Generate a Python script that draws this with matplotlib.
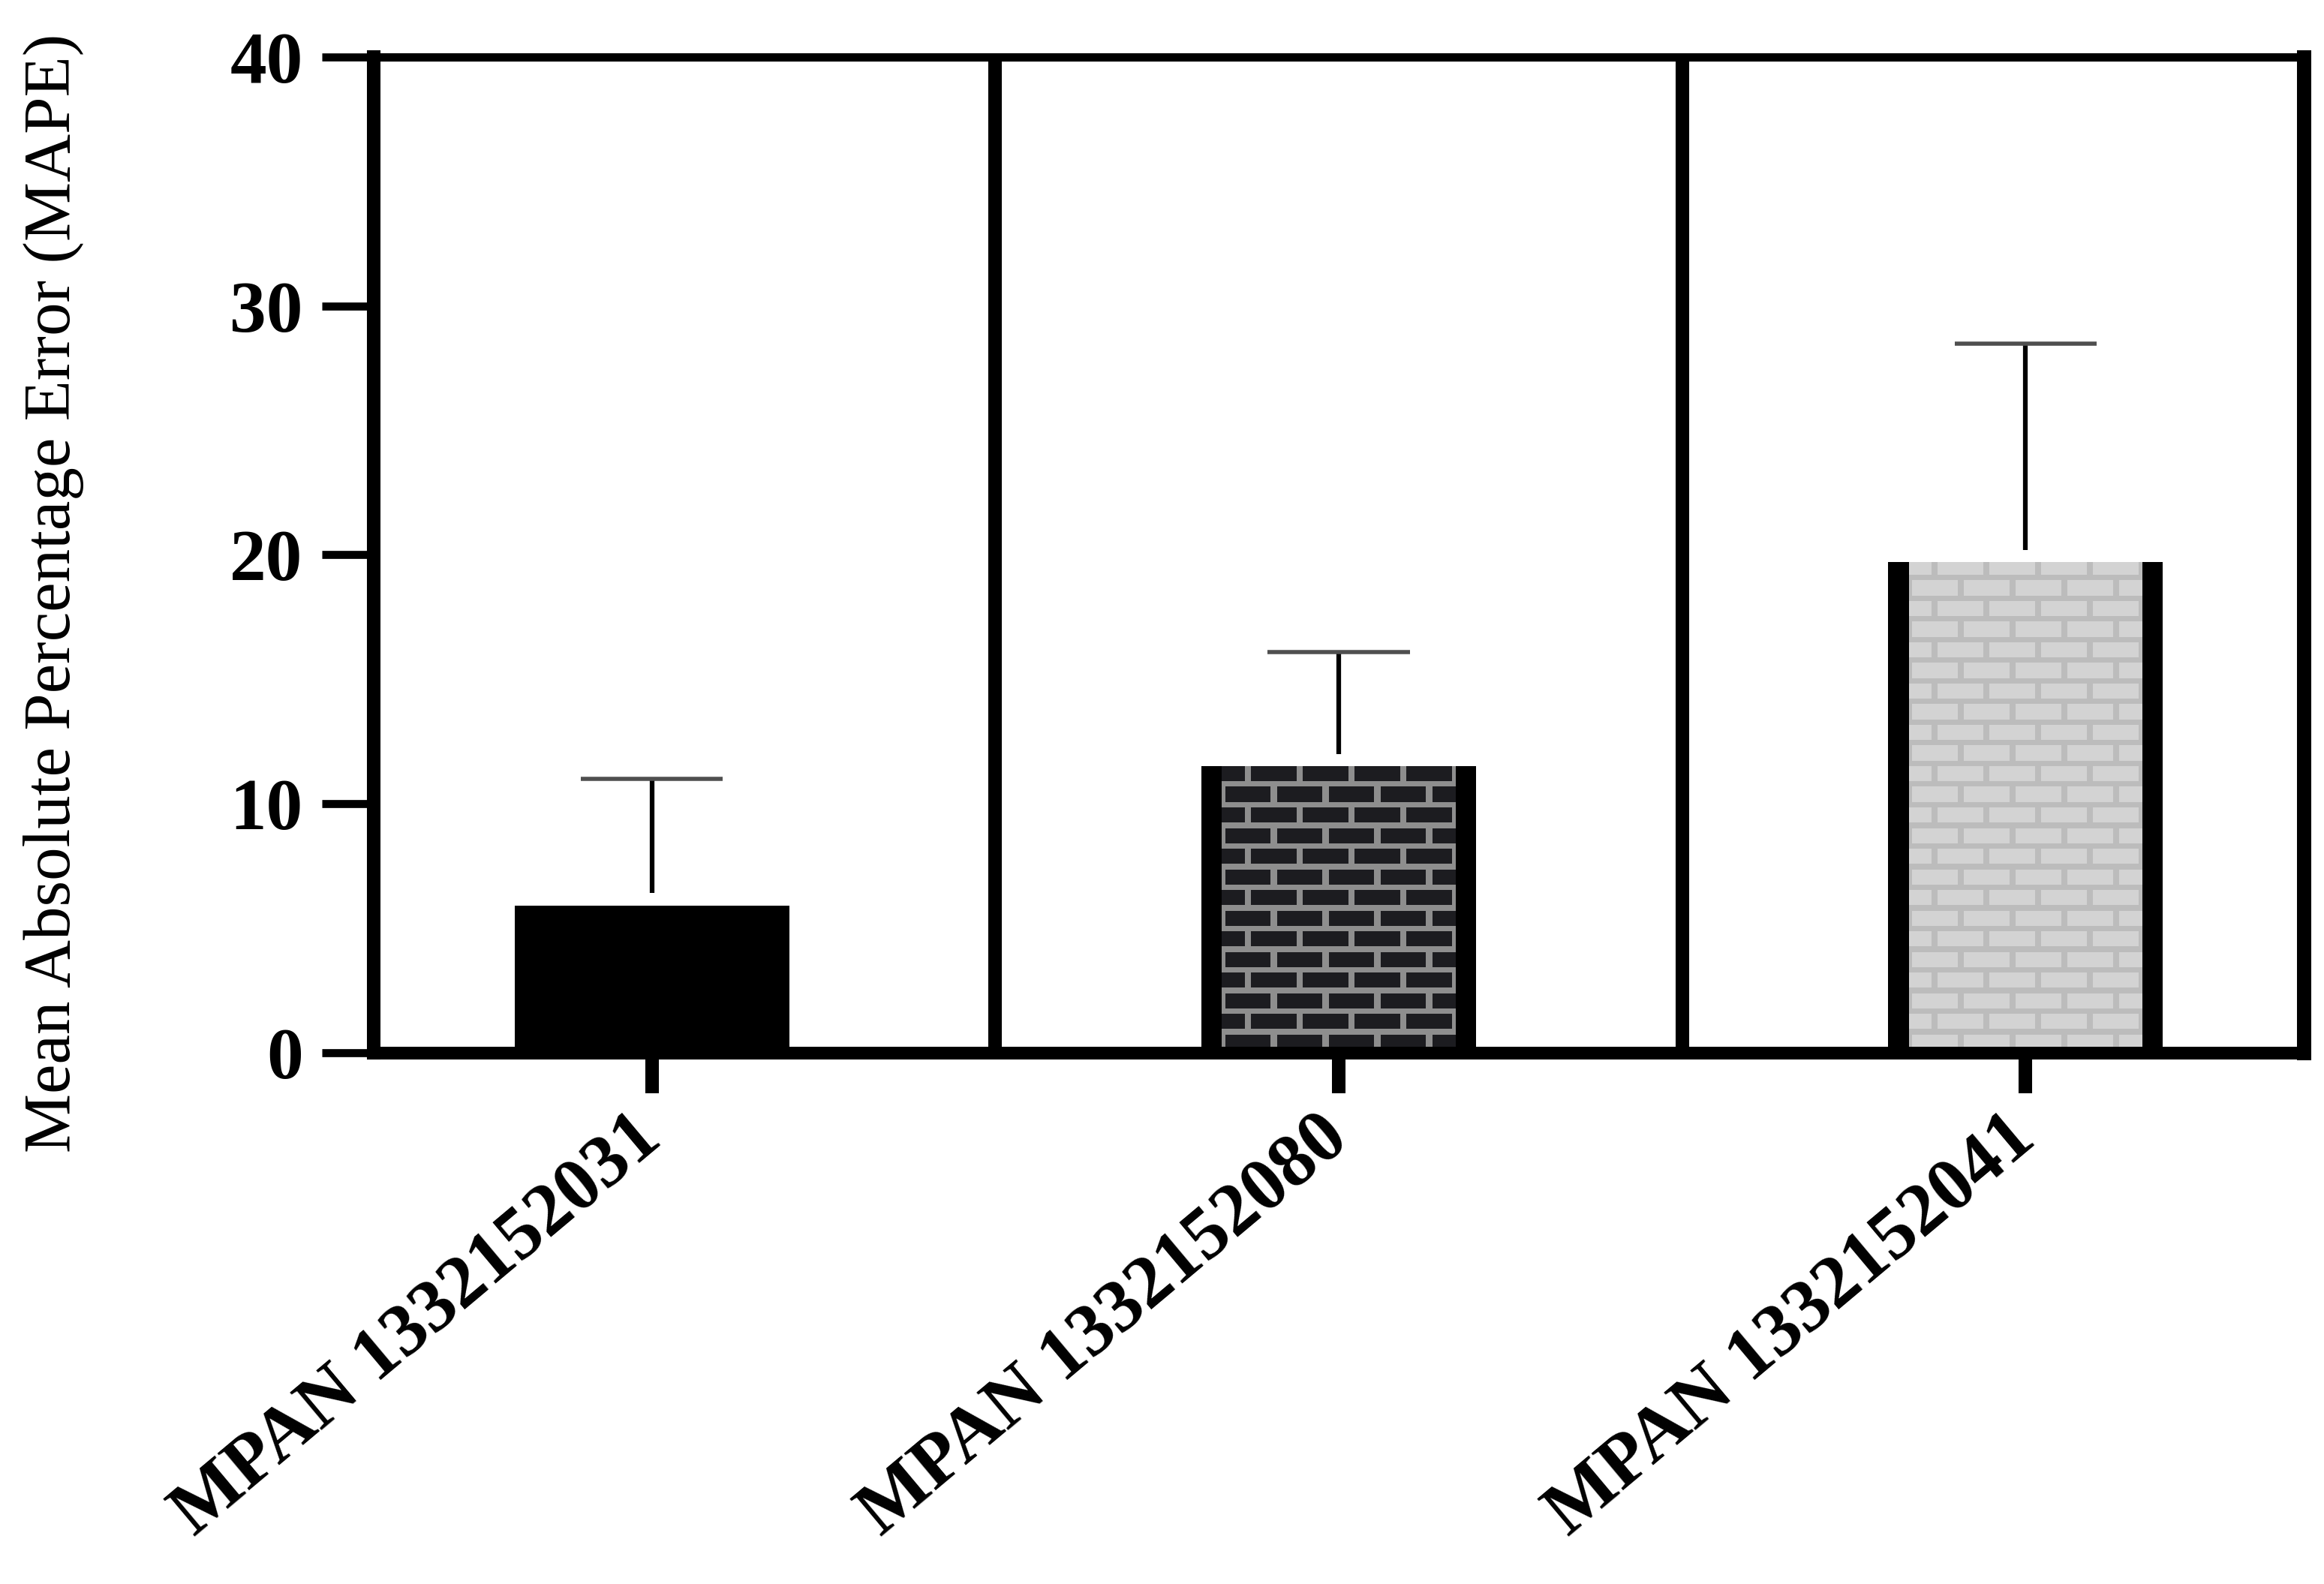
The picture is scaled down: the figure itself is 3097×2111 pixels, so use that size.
import numpy as np
import matplotlib
matplotlib.use('Agg')
import matplotlib.pyplot as plt
from matplotlib.patches import Rectangle
from matplotlib.collections import PatchCollection

plt.rcParams['font.family'] = ['Liberation Serif', 'DejaVu Serif']

# data
meters = ['MPAN 1332152031', 'MPAN 1332152080', 'MPAN 1332152041']
mape_mean = [5.9, 11.5, 19.7]
mape_sd = [5.1, 4.6, 8.8]
y_ticks = [0, 10, 20, 30, 40]

# bar fills: None = solid black, else (brick colour, mortar colour)
fills = [None, ('#1c1c20', '#8e8e8e'), ('#d3d3d3', '#bcbcbc')]

# style
bar_w = 0.40
side_w = 0.03        # black side borders of the patterned bars
row_h = 0.83         # brick row height (y units)
brick_w = 0.0754     # brick length (x units)
mortar_x = 0.009
mortar_y = 0.22
err_gap = 0.5
cap_half = 0.1035

fig = plt.figure(figsize=(30.97, 21.11), dpi=100)
ax = fig.add_axes([0.1608, 0.3356, 0.8305, 0.6282])

x = np.arange(len(meters))
mean = np.array(mape_mean)
sd = np.array(mape_sd)


def brick_fill(ax, xc, h, brick, mortar):
    bars = ax.bar(xc, h, bar_w, color=mortar, linewidth=0, zorder=1)
    patch = bars[0]
    left = xc - bar_w / 2 + side_w
    right = xc + bar_w / 2 - side_w
    rects = []
    nrows = int(np.ceil(h / row_h))
    for r in range(nrows):
        y0 = r * row_h + mortar_y / 2
        xs = left - brick_w + (r % 2) * brick_w / 2
        while xs < right:
            rects.append(Rectangle((xs + mortar_x / 2, y0), brick_w - mortar_x, row_h - mortar_y))
            xs += brick_w
    pc = PatchCollection(rects, facecolor=brick, edgecolor='none', zorder=1.1)
    ax.add_collection(pc)
    pc.set_clip_path(patch)
    # black sides
    ax.bar(xc - bar_w / 2 + side_w / 2, h, side_w, color='black', linewidth=0, zorder=1.2)
    ax.bar(xc + bar_w / 2 - side_w / 2, h, side_w, color='black', linewidth=0, zorder=1.2)


for i in range(len(meters)):
    if fills[i] is None:
        ax.bar(x[i], mean[i], bar_w, color='black', linewidth=0, zorder=1)
    else:
        brick_fill(ax, x[i], mean[i], fills[i][0], fills[i][1])

# error bars (upper only, starting just above the bar)
ax.vlines(x, mean + err_gap, mean + sd, color='black', linewidth=4.5, zorder=3)
ax.hlines(mean + sd, x - cap_half, x + cap_half, color='#4f4f4f', linewidth=4, zorder=3)

# panel dividers between groups
for xm in (x[:-1] + x[1:]) / 2:
    ax.axvline(xm, color='black', linewidth=13, zorder=2)

ax.set_xlim(-0.405, 2.405)
ax.set_ylim(0, 40)
ax.set_yticks(y_ticks)
ax.set_yticklabels([str(t) for t in y_ticks], fontweight='bold')
ax.set_xticks(x)
ax.set_xticklabels(meters, fontweight='bold', rotation=40, ha='right', va='center',
                   rotation_mode='anchor')

ax.tick_params(axis='y', length=50, width=7.7, pad=18, labelsize=70, color='black')
ax.tick_params(axis='x', length=39, width=13, pad=34, labelsize=72, color='black')

ax.spines['left'].set_linewidth(13)
ax.spines['bottom'].set_linewidth(12.2)
ax.spines['top'].set_linewidth(8)
ax.spines['right'].set_linewidth(13.7)
for s in ax.spines.values():
    s.set_color('black')
    s.set_zorder(4)

ax.set_ylabel('Mean Absolute Percentage Error (MAPE)', fontsize=64)
ax.yaxis.set_label_coords(-0.15, 0.4615)

fig.savefig('out.png', dpi=100, facecolor='white')
